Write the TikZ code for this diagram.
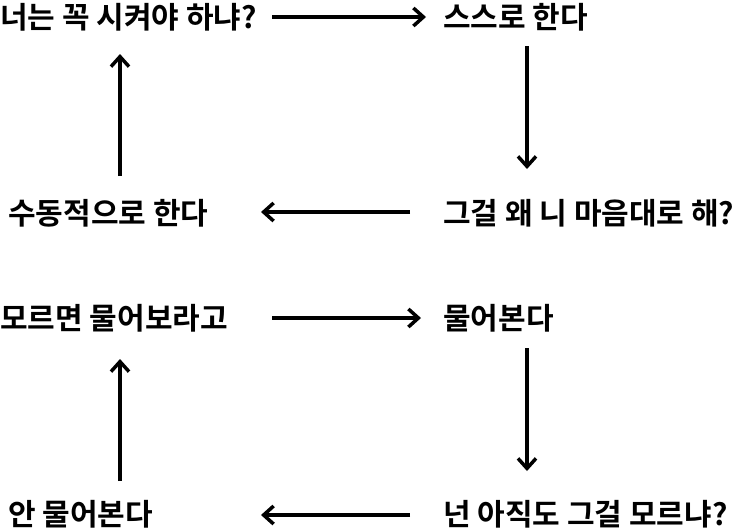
\documentclass[tikz,border=0pt]{standalone}
\usepackage{fontspec}
\newfontfamily\kr{Noto Sans CJK KR Bold}
\usetikzlibrary{arrows.meta}
\begin{document}
\begin{tikzpicture}[x=1pt,y=-1pt,
  lbl/.style={anchor=west,inner sep=0pt,font=\kr\fontsize{30}{34}\selectfont},
  arr/.style={line width=3.5pt,-{Straight Barb[length=10pt,width=18pt,line width=3.5pt]}}]
\useasboundingbox (0,0) rectangle (743,531);
\fill[white] (0,0) rectangle (743,531);
\node[lbl] (a) at (0,17) {너는 꼭 시켜야 하냐?};
\node[lbl] (b) at (443,17) {스스로 한다};
\node[lbl] (c) at (443,213) {그걸 왜 니 마음대로 해?};
\node[lbl] (d) at (8,213) {수동적으로 한다};
\node[lbl] (e) at (0,318) {모르면 물어보라고};
\node[lbl] (f) at (443,318) {물어본다};
\node[lbl] (g) at (443,514) {넌 아직도 그걸 모르냐?};
\node[lbl] (h) at (8,514) {안 물어본다};
\coordinate (a1) at (272,17); \coordinate (a2) at (426,17);
\coordinate (b1) at (527,46); \coordinate (b2) at (527,169);
\coordinate (c1) at (410,212); \coordinate (c2) at (261,212);
\coordinate (d1) at (120,176); \coordinate (d2) at (120,54);
\coordinate (e1) at (272,318); \coordinate (e2) at (421,318);
\coordinate (f1) at (527,348); \coordinate (f2) at (527,471);
\coordinate (g1) at (410,515); \coordinate (g2) at (261,515);
\coordinate (h1) at (120,481); \coordinate (h2) at (120,359);
\foreach \p in {a,b,c,d,e,f,g,h} \draw[arr] (\p1) -- (\p2);
\end{tikzpicture}
\end{document}
